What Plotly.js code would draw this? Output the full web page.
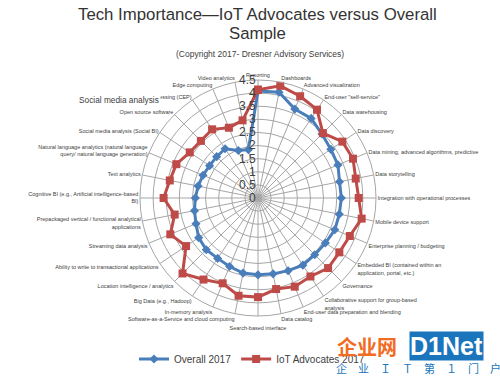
<!DOCTYPE html>
<html>
<head>
<meta charset="utf-8">
<script src="https://cdn.plot.ly/plotly-3.0.1.min.js"></script>
<style>html,body{margin:0;padding:0;background:#fff;}#chart{width:500px;height:377px;}</style>
</head>
<body>
<div id="chart"></div>
<script>
const categories = [
  "Reporting", "Dashboards", "Advanced visualization", "End-user \"self-service\"",
  "Data warehousing", "Data discovery", "Data mining, advanced algorithms, predictive",
  "Data storytelling", "Integration with operational processes", "Mobile device support",
  "Enterprise planning / budgeting", "Embedded BI (contained within an<br>application, portal, etc.)",
  "Governance", "Collaborative support for group-based<br>analysis",
  "End-user data preparation and blending", "Data catalog", " <br>Search-based interface",
  "Software-as-a-Service and cloud computing", "In-memory analysis", "Big Data (e.g., Hadoop)",
  "Location intelligence / analytics", "Ability to write to transactional applications",
  "Streaming data analysis", "Prepackaged vertical / functional analytical<br>applications",
  "Cognitive BI (e.g., Artificial intelligence-based<br>BI)", "Text analytics",
  "Natural language analytics (natural language<br>query/ natural language generation)",
  "Social media analysis (Social BI)", "Open source software",
  "Complex event processing (CEP)", "Edge computing", "Video analytics"
];
const overall2017 = [4.08, 4.11, 3.67, 3.65, 3.45, 3.34, 3.30, 3.17, 3.18, 3.16, 3.17, 3.09,
  3.06, 3.08, 3.00, 2.95, 2.93, 2.92, 2.83, 2.77, 2.79, 2.72, 2.56, 2.47, 2.39, 2.33,
  2.27, 2.22, 2.23, 2.26, 1.96, 1.88];
const iotAdvocates2017 = [4.13, 4.36, 4.20, 4.05, 3.50, 3.87, 3.92, 3.80, 3.84, 4.03, 3.79, 3.73,
  3.78, 3.60, 3.66, 3.54, 3.78, 3.80, 3.52, 3.74, 4.07, 3.30, 3.62, 3.24, 3.60, 3.43,
  3.37, 3.13, 3.08, 3.15, 2.90, 3.02];
const radialTicks = [0, 0.5, 1, 1.5, 2, 2.5, 3, 3.5, 4, 4.5];

function closed(a){ return a.concat([a[0]]); }

const traces = [
  {type:'scatterpolar', name:'Overall 2017', r:closed(overall2017), theta:closed(categories),
   mode:'lines+markers', line:{color:'#4a7ebb', width:3}, marker:{symbol:'diamond', size:7, color:'#4a7ebb'}},
  {type:'scatterpolar', name:'IoT Advocates 2017', r:closed(iotAdvocates2017), theta:closed(categories),
   mode:'lines+markers', line:{color:'#be4b48', width:3}, marker:{symbol:'square', size:8, color:'#be4b48'}}
];

const cx = 258, cy = 198, R = 118, W = 500, H = 377;
const layout = {
  width: W, height: H,
  margin: {l:0, r:0, t:0, b:0},
  paper_bgcolor: '#fff',
  font: {family: 'Liberation Sans, Arial, sans-serif', color: '#404040'},
  showlegend: true,
  legend: {orientation:'h', x:0.504, xanchor:'center', y:(H-359)/H, yanchor:'middle',
           itemwidth:30, font:{size:10, color:'#404040'}},
  polar: {
    domain: {x:[(cx-R)/W, (cx+R)/W], y:[(H-cy-R)/H, (H-cy+R)/H]},
    bgcolor: '#fff',
    angularaxis: {rotation:90, direction:'clockwise', type:'category',
      categoryarray: categories,
      tickfont:{size:5.5, color:'#404040'}, ticks:'', showline:true, linecolor:'#a6a6a6',
      gridcolor:'#a6a6a6', gridwidth:1},
    radialaxis: {range:[0,4.5], tickvals:radialTicks, ticktext:radialTicks.map(String),
      angle:90, tickangle:90, side:'counterclockwise', showline:false, ticks:'',
      tickfont:{size:12, color:'#404040'}, gridcolor:'#a6a6a6', gridwidth:1}
  },
  annotations: [
    {text:'Tech Importance\u2014IoT Advocates versus Overall', x:0.515, y:1-14/H, xref:'paper', yref:'paper',
     showarrow:false, font:{size:16.8, color:'#333'}, xanchor:'center', yanchor:'middle'},
    {text:'Sample', x:0.515, y:1-33/H, xref:'paper', yref:'paper',
     showarrow:false, font:{size:16.8, color:'#333'}, xanchor:'center', yanchor:'middle'},
    {text:'(Copyright 2017- Dresner Advisory Services)', x:0.52, y:1-54/H, xref:'paper', yref:'paper',
     showarrow:false, font:{size:8.5, color:'#404040'}, xanchor:'center', yanchor:'middle'},
    {text:'Social media analysis', x:119/W, y:1-100/H, xref:'paper', yref:'paper',
     showarrow:false, font:{size:8.3, color:'#404040'}, xanchor:'center', yanchor:'middle',
     bgcolor:'#fff'},
    {text:'<b>企业网</b>', x:367/W, y:1-346/H, xref:'paper', yref:'paper', showarrow:false,
     font:{size:20, color:'#f26b21', family:'Noto Sans CJK SC'}, xanchor:'center', yanchor:'middle'},
    {text:'<b>D1Net</b>', x:446/W, y:1-346/H, xref:'paper', yref:'paper', showarrow:false,
     font:{size:25, color:'#fff', family:'Liberation Sans'}, bgcolor:'#1b75bc', borderpad:0,
     xanchor:'center', yanchor:'middle'},
    {text:'企　业　Ｉ　Ｔ　第　１　门　户', x:418/W, y:1-368/H, xref:'paper', yref:'paper', showarrow:false,
     font:{size:11, color:'#1b75bc', family:'Noto Sans CJK SC'}, xanchor:'center', yanchor:'middle'}
  ]
};

Plotly.newPlot('chart', traces, layout, {staticPlot:true, displayModeBar:false});
</script>
</body>
</html>
